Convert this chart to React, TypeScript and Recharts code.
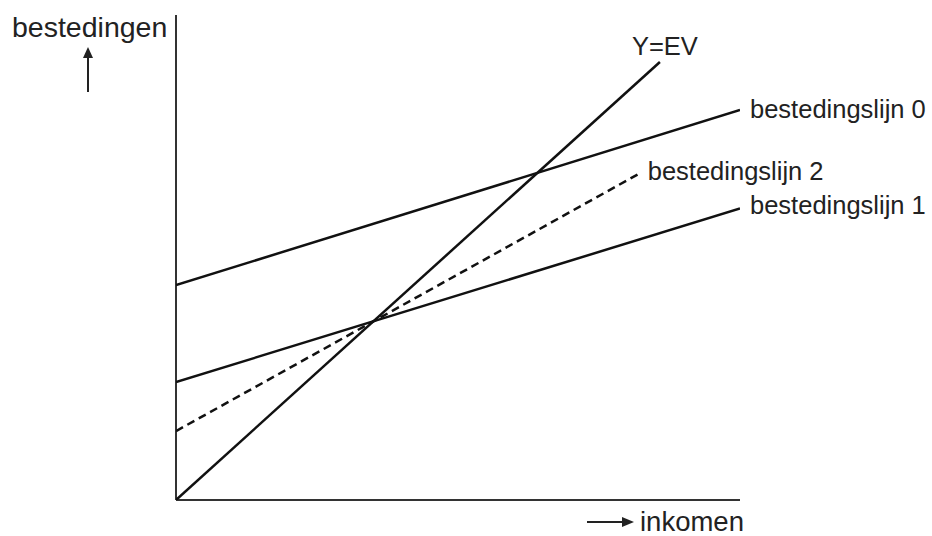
import React from 'react';
import { LineChart, Line, XAxis, YAxis, ReferenceLine, Customized } from 'recharts';

// inkomen (x) en bestedingen (y), in schaaldelen
const evLine = [
  { x: 0, y: 0 },
  { x: 85.8, y: 85.8 },
];
const lijn0 = [
  { x: 0, y: 42.1 },
  { x: 100, y: 76.4 },
];
const lijn1 = [
  { x: 0, y: 23.1 },
  { x: 100, y: 57.1 },
];
const lijn2 = [
  { x: 0, y: 13.5 },
  { x: 82.4, y: 64.1 },
];

const lineNames = ['Y=EV', 'bestedingslijn 0', 'bestedingslijn 1', 'bestedingslijn 2'];
const axisTitles = { y: 'bestedingen', x: 'inkomen' };

const FONT = '"Liberation Sans", Arial, sans-serif';

const endLabel = (text: string, last: number, dx: number, dy: number, anchor: 'start' | 'middle' = 'start') =>
  (props: any) => {
    if (props.index !== last) return null;
    return (
      <text
        key={text}
        x={props.x + dx}
        y={props.y + dy}
        textAnchor={anchor}
        fontFamily={FONT}
        fontSize={25.5}
        fill="#222"
      >
        {text}
      </text>
    );
  };

const Annotations = () => (
  <g>
    <text x={12} y={37} fontFamily={FONT} fontSize={28.5} fill="#222">
      {axisTitles.y}
    </text>
    <line x1={88} y1={92} x2={88} y2={56} stroke="#222" strokeWidth={2} />
    <polygon points="88,47 83,58 93,58" fill="#222" />
    <line x1={587} y1={522} x2={624} y2={522} stroke="#222" strokeWidth={2} />
    <polygon points="634,522 622,517 622,527" fill="#222" />
    <text x={640} y={531} fontFamily={FONT} fontSize={27.5} fill="#222">
      {axisTitles.x}
    </text>
  </g>
);

export default function App() {
  return (
    <div style={{ position: 'absolute', left: 0, top: 0, width: 932, height: 536, background: '#fff' }}>
      <LineChart width={932} height={536} margin={{ top: 15, right: 192, bottom: 36, left: 176 }}>
        <XAxis type="number" dataKey="x" domain={[0, 100]} hide allowDataOverflow />
        <YAxis type="number" dataKey="y" domain={[0, 95]} hide allowDataOverflow />
        <ReferenceLine x={0} stroke="#333" strokeWidth={2} />
        <ReferenceLine y={0} stroke="#333" strokeWidth={2} />
        <Line
          data={evLine}
          dataKey="y"
          stroke="#111"
          strokeWidth={2.5}
          dot={false}
          isAnimationActive={false}
          label={endLabel(lineNames[0], evLine.length - 1, 5, -7, 'middle')}
        />
        <Line
          data={lijn0}
          dataKey="y"
          stroke="#111"
          strokeWidth={2.5}
          dot={false}
          isAnimationActive={false}
          label={endLabel(lineNames[1], lijn0.length - 1, 10, 8)}
        />
        <Line
          data={lijn1}
          dataKey="y"
          stroke="#111"
          strokeWidth={2.5}
          dot={false}
          isAnimationActive={false}
          label={endLabel(lineNames[2], lijn1.length - 1, 10, 6)}
        />
        <Line
          data={lijn2}
          dataKey="y"
          stroke="#111"
          strokeWidth={2.5}
          strokeDasharray="8 5"
          dot={false}
          isAnimationActive={false}
          label={endLabel(lineNames[3], lijn2.length - 1, 7, 7)}
        />
        <Customized component={Annotations} />
      </LineChart>
    </div>
  );
}
